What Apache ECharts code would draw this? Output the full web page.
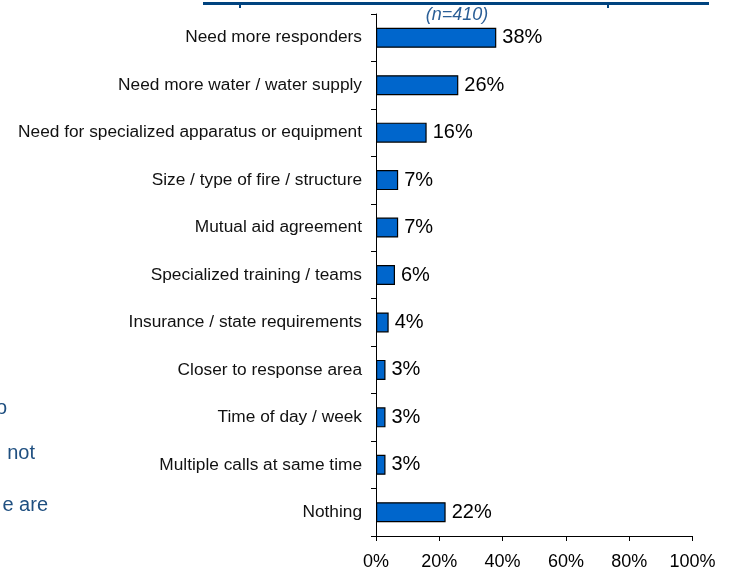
<!DOCTYPE html>
<html>
<head>
<meta charset="utf-8">
<script src="https://cdn.jsdelivr.net/npm/echarts@6/dist/echarts.min.js"></script>
<style>
  html, body { margin: 0; padding: 0; background: #ffffff; }
  #chart { width: 731px; height: 571px; }
</style>
</head>
<body>
<div id="chart"></div>
<script>
// Reasons given, top to bottom
const categories = [
  'Need more responders',
  'Need more water / water supply',
  'Need for specialized apparatus or equipment',
  'Size / type of fire / structure',
  'Mutual aid agreement',
  'Specialized training / teams',
  'Insurance / state requirements',
  'Closer to response area',
  'Time of day / week',
  'Multiple calls at same time',
  'Nothing'
];
// Share of respondents (%)
const shares = [38, 26, 16, 7, 7, 6, 4, 3, 3, 3, 22];
// Percent axis ticks
const axisTicks = [0, 20, 40, 60, 80, 100];
const sampleNote = '(n=410)';
// Fragments of the side note that sit at the left edge
const sideNote = ['o', 'not', 'e are'];

const chart = echarts.init(document.getElementById('chart'), null, { renderer: 'canvas' });

const font = 'Arial, "Liberation Sans", sans-serif';
const navy = '#00437f';
const noteBlue = '#1f4f80';

const sideNoteY = [408, 453, 505];
const sideNoteRight = [7, 35, 48];

chart.setOption({
  animation: false,
  backgroundColor: '#ffffff',
  grid: { left: 376, right: 38.5, top: 14, bottom: 34, containLabel: false },
  xAxis: {
    type: 'value',
    min: axisTicks[0],
    max: axisTicks[axisTicks.length - 1],
    interval: axisTicks[1] - axisTicks[0],
    splitLine: { show: false },
    axisLine: { show: true, lineStyle: { color: '#000', width: 1 } },
    axisTick: { show: true, length: 5, lineStyle: { color: '#000' } },
    axisLabel: {
      color: '#000', fontFamily: font, fontSize: 18, margin: 17,
      formatter: v => v + '%'
    }
  },
  yAxis: {
    type: 'category',
    data: categories,
    inverse: true,
    axisLine: { show: true, lineStyle: { color: '#000', width: 1 } },
    axisTick: { show: true, length: 5, lineStyle: { color: '#000' } },
    axisLabel: { color: '#111', fontFamily: font, fontSize: 17.3, margin: 14 }
  },
  series: [{
    type: 'bar',
    data: shares,
    barWidth: 20,
    itemStyle: { color: '#0066cc', borderColor: '#000', borderWidth: 1.2 },
    label: {
      show: true, position: 'right', distance: 6,
      color: '#000', fontFamily: font, fontSize: 20,
      formatter: p => p.value + '%'
    }
  }],
  graphic: [
    // title underline
    { type: 'rect', shape: { x: 203, y: 2, width: 506, height: 3 }, style: { fill: navy }, silent: true },
    { type: 'rect', shape: { x: 239, y: 2, width: 2, height: 6 }, style: { fill: navy }, silent: true },
    { type: 'rect', shape: { x: 607, y: 2, width: 2, height: 6 }, style: { fill: navy }, silent: true },
    {
      type: 'text', x: 457, y: 15,
      style: {
        text: sampleNote, fill: '#2a5e96', font: 'italic 18px ' + font,
        textAlign: 'center', textVerticalAlign: 'middle'
      }
    }
  ].concat(sideNote.map((t, i) => ({
    type: 'text', x: sideNoteRight[i], y: sideNoteY[i],
    style: {
      text: t, fill: noteBlue, font: '20px ' + font,
      textAlign: 'right', textVerticalAlign: 'middle'
    }
  })))
});
</script>
</body>
</html>
